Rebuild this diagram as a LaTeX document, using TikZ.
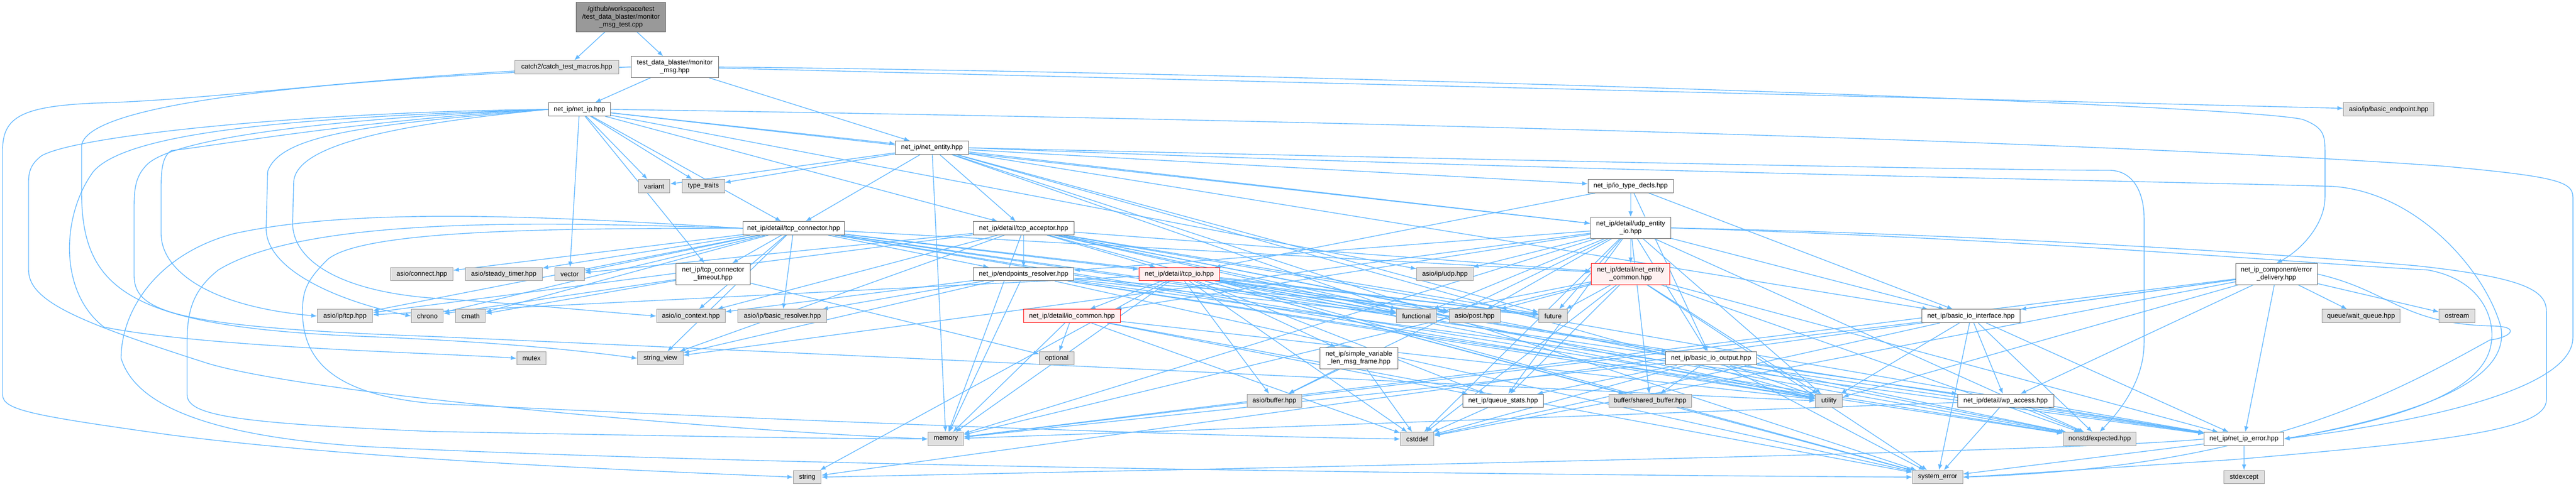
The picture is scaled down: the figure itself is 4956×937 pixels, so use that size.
\documentclass[tikz,border=0pt]{standalone}
\usepackage{fontspec}
\setmainfont{Liberation Sans}
\usetikzlibrary{arrows.meta}
\definecolor{edgec}{HTML}{63B8FF}
\definecolor{gfill}{HTML}{E0E0E0}
\definecolor{gdraw}{HTML}{999999}
\definecolor{wdraw}{HTML}{666666}
\definecolor{rfill}{HTML}{FFF0F0}
\definecolor{rootfill}{HTML}{999999}
\pgfdeclarelayer{bg}
\pgfsetlayers{bg,main}
\begin{document}
\begin{tikzpicture}[x=1pt,y=-1pt,
  base/.style={line width=1pt, inner sep=0pt, minimum height=25.7pt, font=\fontsize{12.9}{15}\selectfont, align=center, anchor=center},
  gbox/.style={base, fill=gfill, draw=gdraw},
  wbox/.style={base, fill=white, draw=wdraw},
  rbox/.style={base, fill=rfill, draw=red},
  rootbox/.style={base, fill=rootfill, draw=wdraw, minimum height=56.2pt},
  two/.style={minimum height=40.6pt},
  e/.style={draw=edgec, line width=1.4pt, -{Latex[length=11pt,width=8.5pt]}}
]
\useasboundingbox (0,0) rectangle (4956,937);

\node[rootbox, minimum width=172.1pt] (root) at (1194.7,32.9) {/github/workspace/test\\/test\_data\_blaster/monitor\\\_msg\_test.cpp};
\node[gbox, minimum width=199.6pt] (catch) at (1090.4,129.5) {catch2/catch\_test\_macros.hpp};
\node[wbox, two, minimum width=168.3pt] (mm) at (1298.2,129.1) {test\_data\_blaster/monitor\\\_msg.hpp};
\node[wbox, minimum width=119.1pt] (ni) at (1114.8,210.7) {net\_ip/net\_ip.hpp};
\node[gbox, minimum width=60.3pt] (var) at (1258.5,358.4) {variant};
\node[gbox, minimum width=81.6pt] (tt) at (1353.2,358.4) {type\_traits};
\node[wbox, minimum width=194.9pt] (tcpc) at (1526.9,439.7) {net\_ip/detail/tcp\_connector.hpp};
\node[gbox, minimum width=119.8pt] (conn) at (811.6,528.1) {asio/connect.hpp};
\node[gbox, minimum width=147.7pt] (stim) at (969.2,528.1) {asio/steady\_timer.hpp};
\node[gbox, minimum width=57.2pt] (vec) at (1095.9,528.1) {vector};
\node[wbox, two, minimum width=142.4pt] (tcto) at (1372,527.8) {net\_ip/tcp\_connector\\\_timeout.hpp};
\node[gbox, minimum width=106.4pt] (tcp) at (663.6,608.8) {asio/ip/tcp.hpp};
\node[gbox, minimum width=61.5pt] (chr) at (822.2,608.8) {chrono};
\node[gbox, minimum width=57.1pt] (cmath) at (905.4,608.8) {cmath};
\node[gbox, minimum width=131.8pt] (ioctx) at (1329.1,608.8) {asio/io\_context.hpp};
\node[gbox, minimum width=171.5pt] (bres) at (1505.2,608.8) {asio/ip/basic\_resolver.hpp};
\node[gbox, minimum width=56.6pt] (mtx) at (1022.6,690.1) {mutex};
\node[gbox, minimum width=87.3pt] (sv) at (1270.4,690.1) {string\_view};
\node[gbox, minimum width=53.5pt] (str) at (1553.1,919) {string};
\node[wbox, minimum width=140.3pt] (ne) at (1793,284.6) {net\_ip/net\_entity.hpp};
\node[wbox, minimum width=194.3pt] (tcpa) at (1969.3,439.7) {net\_ip/detail/tcp\_acceptor.hpp};
\node[wbox, minimum width=193.3pt] (er) at (1969.3,528.1) {net\_ip/endpoints\_resolver.hpp};
\node[rbox, minimum width=155.1pt] (tio) at (2268.9,528.1) {net\_ip/detail/tcp\_io.hpp};
\node[rbox, minimum width=186.8pt] (ioc) at (2062.4,608.8) {net\_ip/detail/io\_common.hpp};
\node[gbox, minimum width=66.7pt] (opt) at (2033.1,690.1) {optional};
\node[gbox, minimum width=67.8pt] (mem) at (1819.7,845.5) {memory};
\node[gbox, minimum width=108.5pt] (udp) at (2779.9,528.1) {asio/ip/udp.hpp};
\node[gbox, minimum width=77.3pt] (func) at (2725.1,608.8) {functional};
\node[gbox, minimum width=98pt] (post) at (2837,608.8) {asio/post.hpp};
\node[gbox, minimum width=54.5pt] (fut) at (2987.9,608.8) {future};
\node[wbox, minimum width=163.6pt] (itd) at (3137.2,358.4) {net\_ip/io\_type\_decls.hpp};
\node[wbox, two, minimum width=154.1pt] (uio) at (3137.2,439) {net\_ip/detail/udp\_entity\\\_io.hpp};
\node[rbox, two, minimum width=150.9pt] (nec) at (3137.2,527.8) {net\_ip/detail/net\_entity\\\_common.hpp};
\node[wbox, two, minimum width=150.4pt] (svl) at (2614.4,689.8) {net\_ip/simple\_variable\\\_len\_msg\_frame.hpp};
\node[gbox, minimum width=105pt] (buf) at (2451.7,771.9) {asio/buffer.hpp};
\node[wbox, minimum width=155.6pt] (qs) at (2891.8,771.9) {net\_ip/queue\_stats.hpp};
\node[gbox, minimum width=159pt] (sb) at (3174.5,771.9) {buffer/shared\_buffer.hpp};
\node[gbox, minimum width=64.1pt] (cst) at (2726.4,845.5) {cstddef};
\node[wbox, minimum width=175.3pt] (bio) at (3291.9,690.1) {net\_ip/basic\_io\_output.hpp};
\node[gbox, minimum width=51.9pt] (util) at (3518.7,771.9) {utility};
\node[wbox, minimum width=189.5pt] (bii) at (3791.9,608.8) {net\_ip/basic\_io\_interface.hpp};
\node[wbox, minimum width=185.3pt] (wpa) at (3858.6,771.9) {net\_ip/detail/wp\_access.hpp};
\node[gbox, minimum width=140.6pt] (exp) at (4039.5,845.5) {nonstd/expected.hpp};
\node[gbox, minimum width=96.4pt] (syserr) at (3727.8,919) {system\_error};
\node[wbox, two, minimum width=156.7pt] (ed) at (4379.6,527.8) {net\_ip\_component/error\\\_delivery.hpp};
\node[gbox, minimum width=149.4pt] (wq) at (4542.4,608.8) {queue/wait\_queue.hpp};
\node[gbox, minimum width=68.3pt] (ost) at (4726.9,608.8) {ostream};
\node[gbox, minimum width=174.4pt] (be) at (4595.7,210.7) {asio/ip/basic\_endpoint.hpp};
\node[wbox, minimum width=152.4pt] (nie) at (4317.1,845.5) {net\_ip/net\_ip\_error.hpp};
\node[gbox, minimum width=77.4pt] (stdex) at (4317.4,919) {stdexcept};

\begin{pgfonlayer}{bg}
\foreach \a/\b in {root/catch, root/mm,
 mm/ni, mm/ne, mm/be,
 ni/var, ni/tt, ni/vec, ni/tcto, ni/tcpc, ni/ne, ni/tcpa, ni/uio, ni/udp,
 ne/tcpa, ne/tcpc, ne/uio, ne/itd, ne/bii, ne/var, ne/tt, ne/func, ne/fut, ne/util, ne/mem, ne/syserr,
 tcpc/conn, tcpc/stim, tcpc/vec, tcpc/tcto, tcpc/tcp, tcpc/chr, tcpc/cmath, tcpc/ioctx, tcpc/bres, tcpc/func, tcpc/fut, tcpc/util, tcpc/tio, tcpc/nec, tcpc/er, tcpc/nie, tcpc/exp, tcpc/sv,
 tcto/chr, tcto/cmath, tcto/opt,
 tcpa/er, tcpa/tio, tcpa/tcp, tcpa/ioctx, tcpa/post, tcpa/vec, tcpa/func, tcpa/fut, tcpa/util, tcpa/sv, tcpa/syserr, tcpa/nec, tcpa/nie, tcpa/exp, tcpa/mem,
 er/bres, er/ioctx, er/sv, er/func, er/fut, er/util, er/syserr, er/mem, er/nie, er/exp,
 tio/ioc, tio/tcp, tio/buf, tio/mem, tio/syserr, tio/cst, tio/util, tio/func, tio/fut, tio/post, tio/svl, tio/qs, tio/bio, tio/sb, tio/nie, tio/exp, tio/str,
 ioc/opt, ioc/mem, ioc/cst, ioc/util, ioc/syserr, ioc/qs,
 uio/udp, uio/nec, uio/fut, uio/func, uio/post, uio/buf, uio/ioc, uio/mem, uio/cst, uio/util, uio/sv, uio/bio, uio/bii, uio/qs, uio/sb, uio/exp, uio/er,
 nec/func, nec/post, nec/fut, nec/mem, nec/syserr, nec/util, nec/cst, nec/qs, nec/nie, nec/exp,
 itd/uio, itd/tio, itd/bii, itd/bio,
 svl/buf, svl/cst, qs/cst,
 bio/wpa, bio/sb, bio/util, bio/mem, bio/cst, bio/syserr, bio/exp, bio/qs,
 bii/wpa, bii/util, bii/syserr, bii/exp, bii/nie, bii/mem, bii/cst,
 wpa/mem, wpa/syserr, wpa/exp, wpa/nie,
 nie/syserr, nie/stdex,
 ed/wq, ed/ost, ed/nie, ed/str, ed/mem, ed/cst, ed/bii, ed/wpa, ed/util}
 \draw[e] (\a) -- (\b);

% left loops
\draw[e] (mm.west) .. controls (800,135) and (450,190) .. (200,198) .. controls (40,203) and (5,225) .. (5,290) -- (5,760) .. controls (5,790) and (60,800) .. (330,838) .. controls (700,885) and (1200,905) .. (str.west);
\draw[e] (mm.west) .. controls (700,150) and (170,190) .. (157,280) -- (157,370) .. controls (157,560) and (250,630) .. (700,648) .. controls (1000,660) and (1150,680) .. (sv.west);
\draw[e] (ni.west) .. controls (600,215) and (150,260) .. (80,300) .. controls (60,315) and (55,330) .. (55,350) -- (55,520) .. controls (55,580) and (150,620) .. (400,700) .. controls (600,760) and (1400,830) .. (mem.west);
\draw[e] (ni.west) .. controls (600,225) and (250,250) .. (180,330) .. controls (120,410) and (110,560) .. (200,630) .. controls (400,670) and (850,680) .. (mtx.west);
\draw[e] (ni.west) .. controls (700,225) and (330,260) .. (280,320) .. controls (262,340) and (258,360) .. (258,400) -- (258,530) .. controls (258,600) and (330,630) .. (830,648) .. controls (2000,700) and (3200,760) .. (util.west);
\draw[e] (ni.west) .. controls (700,230) and (420,280) .. (330,290) .. controls (312,300) and (310,330) .. (310,360) -- (310,450) .. controls (310,520) and (400,590) .. (tcp.west);
\draw[e] (ni.west) .. controls (700,240) and (540,260) .. (515,330) -- (512,440) .. controls (512,520) and (650,580) .. (chr.west);
\draw[e] (ni.west) .. controls (700,245) and (570,290) .. (565,350) -- (563,430) .. controls (563,500) and (650,560) .. (830,574) .. controls (1000,585) and (1150,600) .. (ioctx.west);
\draw[e] (tcpc.west) .. controls (1100,420) and (700,395) .. (450,450) .. controls (300,490) and (233,600) .. (233,690) .. controls (260,780) and (400,840) .. (700,860) .. controls (1500,900) and (3000,915) .. (syserr.west);
\draw[e] (tcpc.west) .. controls (1100,430) and (600,410) .. (420,520) .. controls (370,560) and (360,600) .. (360,660) -- (360,760) .. controls (360,800) and (450,815) .. (830,831) .. controls (1300,840) and (1600,845) .. (mem.west);
\draw[e] (tcpc.west) .. controls (1100,440) and (700,440) .. (630,500) .. controls (590,540) and (582,560) .. (582,600) .. controls (582,700) and (650,760) .. (830,777) .. controls (1500,810) and (2300,840) .. (cst.west);

% right loops
\draw[e] (mm.east) .. controls (2500,140) and (4300,200) .. (4430,230) .. controls (4470,245) and (4473,260) .. (4473,290) -- (4473,380) .. controls (4473,430) and (4430,480) .. (ed.north);
\draw[e] (ni.east) .. controls (2500,230) and (4000,270) .. (4700,320) .. controls (4920,340) and (4950,350) .. (4950,380) -- (4950,650) .. controls (4950,760) and (4600,820) .. (nie.east);
\draw[e] (ne.east) .. controls (2500,300) and (3800,328) .. (4060,328) .. controls (4110,330) and (4125,380) .. (4125,420) -- (4125,660) .. controls (4125,740) and (4070,800) .. (exp.north);
\draw[e] (ne.east) .. controls (3000,330) and (4200,350) .. (4488,359) .. controls (4650,370) and (4780,520) .. (4811,628) .. controls (4830,720) and (4700,790) .. (nie.east);
\draw[e] (uio.east) .. controls (3800,450) and (4400,490) .. (4650,512) .. controls (4860,535) and (4899,560) .. (4899,600) -- (4899,770) .. controls (4899,830) and (4700,850) .. (4300,885) .. controls (4000,905) and (3850,915) .. (syserr.east);
\draw[e] (uio.east) .. controls (3900,460) and (4400,505) .. (4671,520) .. controls (4780,540) and (4800,620) .. (4793,660) .. controls (4780,760) and (4600,810) .. (nie.east);
\draw[e] (ed.east) .. controls (4600,560) and (4620,625) .. (4800,628) .. controls (4850,630) and (4830,650) .. (4790,655) .. controls (4600,760) and (4350,900) .. (syserr.east);
\draw[e] (nie.west) .. controls (4000,870) and (2500,900) .. (str.east);
\end{pgfonlayer}
\end{tikzpicture}
\end{document}
